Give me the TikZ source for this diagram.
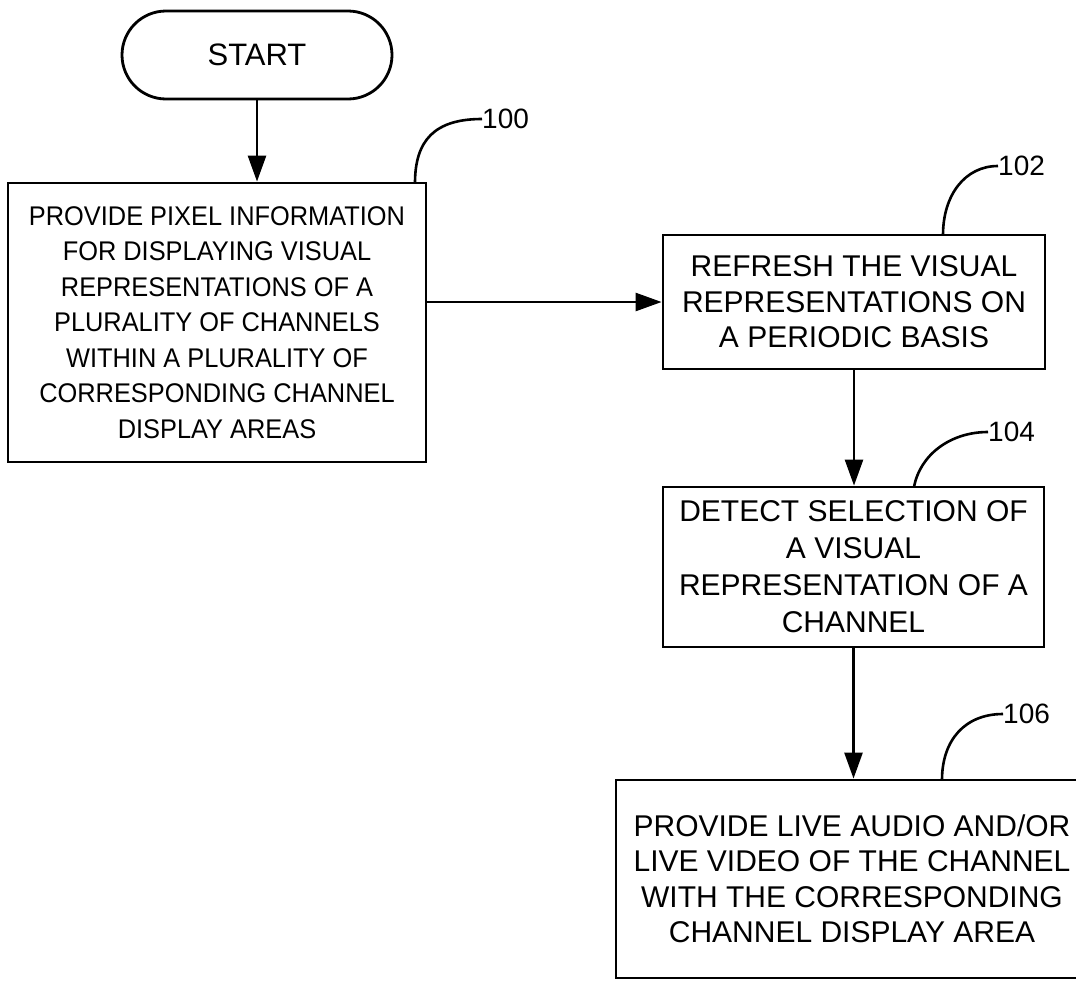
\documentclass[tikz,border=0pt]{standalone}
\usepackage{fontspec}
\setmainfont{Liberation Sans}
\newfontfamily\narrowfont{Liberation Sans}[FakeStretch=0.94]
\usetikzlibrary{arrows.meta,calc}
\begin{document}
\begin{tikzpicture}[x=1pt,y=-1pt,
  stepbox/.style={draw,line width=2.8pt,rectangle,inner sep=0pt,align=center,
    font=\fontsize{30}{35.5}\selectfont},
  arr/.style={line width=2.6pt,-{Triangle[length=26pt,width=18pt]}},
  lead/.style={line width=2.6pt},
  num/.style={anchor=west,inner sep=0pt,font=\fontsize{28}{30}\selectfont}]
\clip (0,0) rectangle (1076,980);
\fill[white] (0,0) rectangle (1076,980);
\node[stepbox,rounded corners=44pt,minimum width=270pt,minimum height=88pt,
  font=\fontsize{31}{35}\selectfont] (start) at (257,55) {START};
\node[stepbox,minimum width=418pt,minimum height=279pt,
  font=\narrowfont\fontsize{27}{35.5}\selectfont] (b100) at (217,322.5)
  {PROVIDE PIXEL INFORMATION\\FOR DISPLAYING VISUAL\\REPRESENTATIONS OF A\\PLURALITY OF CHANNELS\\WITHIN A PLURALITY OF\\CORRESPONDING CHANNEL\\DISPLAY AREAS};
\node[stepbox,minimum width=382pt,minimum height=134pt] (b102) at (854,302)
  {REFRESH THE VISUAL\\REPRESENTATIONS ON\\A PERIODIC BASIS};
\node[stepbox,minimum width=381pt,minimum height=160pt,
  font=\fontsize{30}{37}\selectfont] (b104) at (853.5,567)
  {DETECT SELECTION OF\\A VISUAL\\REPRESENTATION OF A\\CHANNEL};
\node[stepbox,minimum width=472pt,minimum height=198pt] (b106) at (852,879)
  {PROVIDE LIVE AUDIO AND/OR\\LIVE VIDEO OF THE CHANNEL\\WITH THE CORRESPONDING\\CHANNEL DISPLAY AREA};
\draw[arr] (start.south) -- (start.south |- b100.north);
\draw[arr] (b100.east |- b102.west) -- (b102.west);
\draw[arr] (b102.south) -- (b102.south |- b104.north);
\draw[arr] (b104.south) -- (b104.south |- b106.north);
\node[num] (l100) at (482,119) {100};
\node[num] (l102) at (998,166) {102};
\node[num] (l104) at (988,432) {104};
\node[num] (l106) at (1003,714) {106};
\coordinate (c100) at (415,183);
\coordinate (c102) at (943,235);
\coordinate (c104) at (914,487);
\coordinate (c106) at (942,780);
\draw[lead] (c100) .. controls (415,140) and (435,119) .. (l100.west);
\draw[lead] (c102) .. controls (943,195) and (965,166) .. (l102.west);
\draw[lead] (c104) .. controls (920,455) and (950,432) .. (l104.west);
\draw[lead] (c106) .. controls (942,740) and (965,714) .. (l106.west);
\end{tikzpicture}
\end{document}
